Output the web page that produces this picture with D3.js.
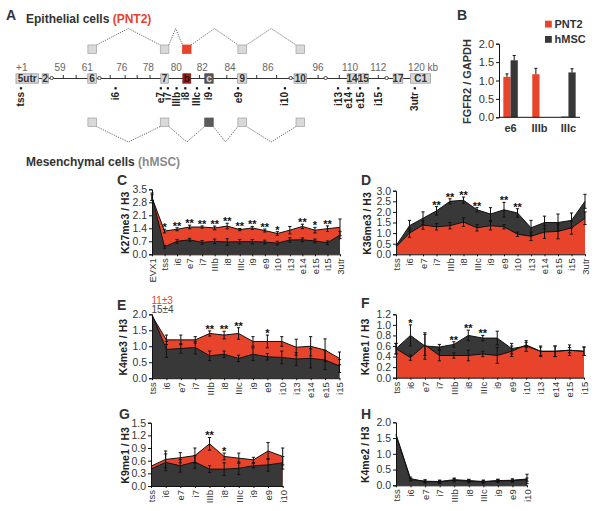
<!DOCTYPE html>
<html>
<head>
<meta charset="utf-8">
<script src="https://cdn.jsdelivr.net/npm/d3@7"></script>
<style>
  body { margin: 0; background: #fff; }
  text { font-family: "Liberation Sans", Arial, sans-serif; }
</style>
</head>
<body>
<svg id="fig" width="600" height="511"></svg>
<script>
// ---------- panel A: gene diagram (positions in diagram units, 0-100) ----------
const exonNames = ["5utr", "2", "6", "7", "b", "c", "9", "10", "14", "15", "17", "C1"];
const exonStart = [0, 6.3, 17.3, 34.9, 40.2, 45.5, 53.4, 67, 79.8, 82.5, 90.9, 95.1];
const exonEnd   = [5.4, 7.8, 19.4, 36.7, 42.1, 47.5, 55.6, 70, 82.1, 84.9, 93.2, 99.9];
const kbLabels = ["+1", "59", "61", "76", "78", "80", "82", "84", "86", "96", "110", "112", "120 kb"];
const kbPos    = [1.4, 10.6, 17.2, 25.5, 31.9, 38.6, 44.9, 51.6, 60.7, 72.8, 80.5, 87.3, 98.1];
const lineTicks  = [11.4, 14.5, 22.7, 26.3, 29.2, 32.3, 44.2, 50.8, 58, 62.8, 72.8, 77.9, 87.3];
const lineBreaks = [8.6, 20.1, 66.2, 74.6, 89.3];
const siteNames = ["tss", "i6", "e7", "i7", "IIIb", "i8", "IIIc", "i9", "e9", "i10", "i13", "e14", "e15", "i15", "3utr"];
const sitePos   = [1.2, 24, 34.9, 36.6, 38.7, 40.8, 43.6, 46.5, 53.5, 64.8, 77.6, 80.1, 82.9, 87.3, 96.1];
const epiExons = ["6", "7", "b", "9", "10"];
const mesExons = ["6", "7", "c", "9", "10"];

// ---------- panel B: FGFR2 / GAPDH ----------
const bGroups = ["e6", "IIIb", "IIIc"];
const b_pnt2 = [1.1, 1.17, 0.02];
const b_pnt2Err = [0.08, 0.16, 0];
const b_hmsc = [1.55, 0, 1.22];
const b_hmscErr = [0.13, 0, 0.1];

// ---------- panel C: K27me3 ----------
const catsC = ["EVX1", "tss", "i6", "e7", "i7", "IIIb", "i8", "IIIc", "i9", "e9", "i10", "i13", "e14", "e15", "i15", "3utr"];
const c_pnt2    = [3.05, 1.25, 1.35, 1.47, 1.47, 1.42, 1.52, 1.33, 1.42, 1.28, 1.12, 1.3, 1.5, 1.3, 1.38, 1.45];
const c_pnt2Err = [0.15, 0.1, 0.08, 0.1, 0.06, 0.1, 0.15, 0.06, 0.08, 0.08, 0.1, 0.2, 0.12, 0.15, 0.15, 0.45];
const c_hmsc    = [3.1, 0.4, 0.7, 0.78, 0.64, 0.7, 0.66, 0.68, 0.68, 0.66, 0.6, 0.77, 0.78, 0.72, 0.62, 1.04];
const c_hmscErr = [0.2, 0.08, 0.1, 0.08, 0.1, 0.12, 0.18, 0.12, 0.12, 0.1, 0.1, 0.12, 0.1, 0.1, 0.1, 0.2];
const c_stars = ["", "*", "**", "**", "**", "**", "**", "**", "**", "**", "*", "", "**", "*", "**", ""];

// ---------- panel D: K36me3 ----------
const catsD = ["tss", "i6", "e7", "i7", "IIIb", "i8", "IIIc", "i9", "e9", "i10", "i13", "e14", "e15", "i15", "3utr"];
const d_pnt2    = [0.35, 1.0, 1.38, 1.3, 1.35, 1.52, 1.25, 1.35, 1.3, 0.95, 0.85, 1.05, 1.08, 1.25, 1.7];
const d_pnt2Err = [0, 0.2, 0.2, 0.15, 0.15, 0.2, 0.15, 0.2, 0.1, 0.1, 0.2, 0.3, 0.35, 0.3, 0.3];
const d_hmsc    = [0.4, 1.35, 1.7, 2.05, 2.5, 2.55, 2.1, 1.9, 2.1, 1.95, 1.25, 1.5, 1.5, 1.6, 2.5];
const d_hmscErr = [0, 0.25, 0.3, 0.2, 0.12, 0.15, 0.1, 0.3, 0.35, 0.2, 0.35, 0.3, 0.4, 0.35, 0.33];
const d_stars = ["", "", "", "**", "**", "**", "**", "", "**", "**", "", "", "", "", ""];

// ---------- panel E: K4me3 ----------
const catsE = ["tss", "i6", "e7", "i7", "IIIb", "i8", "IIIc", "i9", "e9", "i10", "i13", "e14", "e15", "i15"];
const e_pnt2    = [1.95, 1.2, 1.2, 1.2, 1.4, 1.35, 1.4, 1.15, 1.15, 1.15, 0.97, 1.0, 0.88, 0.62];
const e_pnt2Err = [0, 0.15, 0.15, 0.1, 0.08, 0.12, 0.18, 0.15, 0.2, 0.15, 0.25, 0.3, 0.35, 0.2];
const e_hmsc    = [2.0, 0.9, 0.93, 0.96, 0.7, 0.75, 0.62, 0.75, 0.67, 0.65, 0.6, 0.62, 0.57, 0.38];
const e_hmscErr = [0, 0.25, 0.15, 0.2, 0.15, 0.1, 0.1, 0.2, 0.1, 0.2, 0.2, 0.3, 0.3, 0.2];
const e_stars = ["", "", "", "", "**", "**", "**", "", "*", "", "", "", "", ""];

// ---------- panel F: K4me1 ----------
const catsF = catsE;
const f_pnt2    = [0.55, 0.38, 0.62, 0.42, 0.42, 0.42, 0.45, 0.42, 0.5, 0.62, 0.5, 0.5, 0.52, 0.5];
const f_pnt2Err = [0.1, 0.05, 0.2, 0.1, 0.05, 0.1, 0.05, 0.15, 0.1, 0.05, 0.1, 0.1, 0.05, 0.08];
const f_hmsc    = [0.55, 0.8, 0.6, 0.58, 0.63, 0.8, 0.75, 0.75, 0.55, 0.6, 0.5, 0.5, 0.52, 0.5];
const f_hmscErr = [0.1, 0.2, 0.25, 0.05, 0.05, 0.1, 0.05, 0.13, 0.1, 0.1, 0.08, 0.1, 0.1, 0.08];
const f_stars = ["", "*", "", "", "**", "**", "**", "", "", "", "", "", "", ""];

// ---------- panel G: K9me1 ----------
const catsG = ["tss", "i6", "e7", "i7", "IIIb", "i8", "IIIc", "i9", "e9", "i10"];
const g_pnt2    = [0.47, 0.63, 0.67, 0.72, 1.0, 0.7, 0.66, 0.62, 0.83, 0.7];
const g_pnt2Err = [0, 0.2, 0.12, 0.18, 0.15, 0.08, 0.12, 0.06, 0.2, 0.2];
const g_hmsc    = [0.4, 0.56, 0.48, 0.57, 0.4, 0.4, 0.42, 0.48, 0.5, 0.55];
const g_hmscErr = [0, 0.2, 0.15, 0.15, 0.08, 0.15, 0.15, 0.05, 0.15, 0.15];
const g_stars = ["", "", "", "", "**", "*", "", "", "", ""];

// ---------- panel H: K4me2 ----------
const catsH = catsG;
const h_pnt2    = [1.62, 0.21, 0.12, 0.11, 0.16, 0.13, 0.11, 0.14, 0.15, 0.18];
const h_pnt2Err = [0, 0.05, 0.05, 0.05, 0.05, 0.05, 0.05, 0.05, 0.05, 0.05];
const h_hmsc    = [1.58, 0.18, 0.13, 0.12, 0.18, 0.15, 0.12, 0.15, 0.16, 0.2];
const h_hmscErr = [0, 0.04, 0.04, 0.04, 0.05, 0.04, 0.04, 0.04, 0.04, 0.15];
const h_stars = ["", "", "", "", "", "", "", "", "", ""];

const RED = "#e8432b", DARK = "#383838", INK = "#333";
const svg = d3.select("#fig");

function letter(g, x, y, t) {
  g.append("text").attr("x", x).attr("y", y)
    .attr("font-size", 14).attr("font-weight", "bold").attr("fill", INK).text(t);
}

// ===== panel A =====
(function () {
  const gx = d3.scaleLinear().domain([0, 100]).range([16, 431]);
  const lineY = 78.5;
  const g = svg.append("g");
  letter(g, 6, 19.5, "A");

  const t1 = g.append("text").attr("x", 26).attr("y", 22.5)
    .attr("font-size", 12).attr("font-weight", "bold").attr("fill", INK);
  t1.append("tspan").text("Epithelial cells ");
  t1.append("tspan").attr("fill", RED).text("(PNT2)");

  const t2 = g.append("text").attr("x", 26).attr("y", 166)
    .attr("font-size", 12).attr("font-weight", "bold").attr("fill", INK);
  t2.append("tspan").text("Mesenchymal cells ");
  t2.append("tspan").attr("fill", "#8a8a8a").text("(hMSC)");

  // backbone
  g.append("line")
    .attr("x1", gx(exonEnd[0])).attr("x2", gx(exonStart[exonStart.length - 1]))
    .attr("y1", lineY).attr("y2", lineY)
    .attr("stroke", INK).attr("stroke-width", 1.2);

  g.selectAll(".tk").data(lineTicks).join("line")
    .attr("x1", d => gx(d)).attr("x2", d => gx(d))
    .attr("y1", lineY - 3.5).attr("y2", lineY)
    .attr("stroke", INK).attr("stroke-width", 1);

  g.selectAll(".brk").data(lineBreaks).join("ellipse")
    .attr("cx", d => gx(d)).attr("cy", lineY - 0.5)
    .attr("rx", 1.8).attr("ry", 1.5)
    .attr("fill", "#fff").attr("stroke", INK).attr("stroke-width", 0.9);

  // exon boxes
  const exons = exonNames.map((n, i) => ({ n, s: exonStart[i], e: exonEnd[i] }));
  const box = g.selectAll(".ex").data(exons).join("g");
  box.append("rect")
    .attr("x", d => gx(d.s)).attr("width", d => gx(d.e) - gx(d.s))
    .attr("y", lineY - 4.7).attr("height", 9.4)
    .attr("fill", d => d.n === "b" ? "#a5241a" : d.n === "c" ? "#5a5a5a" : "#d9d9d9")
    .attr("stroke", d => d.n === "b" ? "#7a1a12" : d.n === "c" ? "#444" : "#9a9a9a")
    .attr("stroke-width", 0.8);
  box.append("text")
    .attr("x", d => gx((d.s + d.e) / 2)).attr("y", lineY + 3.6)
    .attr("text-anchor", "middle").attr("font-size", 10).attr("font-weight", "bold")
    .attr("fill", d => d.n === "c" ? "#ddd" : d.n === "b" ? "#1a0a08" : INK)
    .text(d => d.n);

  // kb labels
  g.selectAll(".kb").data(kbLabels).join("text")
    .attr("x", (d, i) => gx(kbPos[i])).attr("y", 70.5)
    .attr("text-anchor", "middle").attr("font-size", 10).attr("fill", "#666")
    .text(d => d);

  // amplicon sites
  const sites = siteNames.map((n, i) => ({ n, p: sitePos[i] }));
  g.selectAll(".dot").data(sites).join("rect")
    .attr("x", d => gx(d.p) - 1.1).attr("y", 87.2).attr("width", 2.2).attr("height", 2.2)
    .attr("fill", "#111");
  g.selectAll(".sl").data(sites).join("text")
    .attr("transform", d => `translate(${gx(d.p)},92) rotate(-90)`)
    .attr("dy", "0.35em").attr("text-anchor", "end")
    .attr("font-size", 10).attr("font-weight", "bold").attr("fill", "#222")
    .text(d => d.n);

  // splicing diagrams
  function splice(names, top, up, special, specialFill) {
    const size = 8.5;
    const cx = names.map(n => { const i = exonNames.indexOf(n); return gx((exonStart[i] + exonEnd[i]) / 2); });
    const edgeY = up ? top : top + size;
    const apexY = up ? top - 16.5 : top + size + 15.5;
    for (let k = 0; k < cx.length - 1; k++) {
      const xa = cx[k] + size / 2, xb = cx[k + 1] - size / 2;
      g.append("path")
        .attr("d", `M${xa},${edgeY}L${(xa + xb) / 2},${apexY}L${xb},${edgeY}`)
        .attr("fill", "none").attr("stroke", "#555").attr("stroke-width", 0.9)
        .attr("stroke-dasharray", "1.2,1.2");
    }
    g.selectAll(null).data(names).join("rect")
      .attr("x", (d, i) => cx[i] - size / 2).attr("y", top)
      .attr("width", size).attr("height", size)
      .attr("fill", d => d === special ? specialFill : "#d9d9d9")
      .attr("stroke", d => d === special ? specialFill : "#a8a8a8").attr("stroke-width", 0.8);
  }
  splice(epiExons, 45, true, "b", RED);
  splice(mesExons, 118, false, "c", "#5a5a5a");
})();

// ===== panel B =====
(function () {
  const g = svg.append("g");
  letter(g, 457, 19.5, "B");
  const x = d3.scaleBand().domain(bGroups).range([499, 580]).paddingInner(0.5).paddingOuter(0.15);
  const xs = d3.scaleBand().domain(["PNT2", "hMSC"]).range([0, x.bandwidth()]);
  const y = d3.scaleLinear().domain([0, 2]).range([117.3, 43.7]);

  const rows = [];
  bGroups.forEach((gName, i) => {
    rows.push({ g: gName, s: "PNT2", v: b_pnt2[i], e: b_pnt2Err[i], c: RED });
    rows.push({ g: gName, s: "hMSC", v: b_hmsc[i], e: b_hmscErr[i], c: DARK });
  });

  g.selectAll(".bar").data(rows).join("rect")
    .attr("x", d => x(d.g) + xs(d.s)).attr("width", xs.bandwidth())
    .attr("y", d => y(d.v)).attr("height", d => y(0) - y(d.v))
    .attr("fill", d => d.v < 0.05 ? DARK : d.c);

  const eb = rows.filter(d => d.e > 0);
  g.selectAll(".eb").data(eb).join("path")
    .attr("d", d => {
      const cx = x(d.g) + xs(d.s) + xs.bandwidth() / 2;
      const t = y(d.v + d.e), b = y(d.v);
      return `M${cx},${b}V${t}M${cx - 1.5},${t}H${cx + 1.5}`;
    })
    .attr("stroke", "#111").attr("stroke-width", 1).attr("fill", "none");

  const ya = g.append("g").attr("transform", "translate(499,0)")
    .call(d3.axisLeft(y).tickValues([0, 0.5, 1, 1.5, 2]).tickSize(3).tickPadding(2).tickFormat(d3.format(".1f")));
  ya.selectAll("text").attr("font-size", 11).attr("fill", INK);
  ya.select(".domain").attr("stroke", "#111");
  ya.selectAll(".tick line").attr("stroke", "#111");

  g.append("line").attr("x1", 499).attr("x2", 580).attr("y1", y(0)).attr("y2", y(0))
    .attr("stroke", "#111");

  g.selectAll(".xl").data(bGroups).join("text")
    .attr("x", d => x(d) + x.bandwidth() / 2).attr("y", 131.5)
    .attr("text-anchor", "middle").attr("font-size", 11).attr("font-weight", "bold").attr("fill", INK)
    .text(d => d);

  g.append("text")
    .attr("transform", `translate(470.5,${(y(0) + y(2)) / 2 + 1}) rotate(-90)`)
    .attr("text-anchor", "middle").attr("font-size", 11).attr("font-weight", "bold").attr("fill", INK)
    .text("FGFR2 / GAPDH");

  const leg = [{ n: "PNT2", c: RED }, { n: "hMSC", c: DARK }];
  const lg = g.selectAll(".lg").data(leg).join("g")
    .attr("transform", (d, i) => `translate(545,${20.7 + i * 15.3})`);
  lg.append("rect").attr("width", 6.8).attr("height", 6.8).attr("fill", d => d.c);
  lg.append("text").attr("x", 9.5).attr("y", 7.4)
    .attr("font-size", 11).attr("font-weight", "bold").attr("fill", INK).text(d => d.n);
})();

// ===== line/area panels C-H =====
function drawPanel(p) {
  const g = svg.append("g");
  const x = d3.scalePoint().domain(p.cats).range([p.x0, p.x1]);
  const y = d3.scaleLinear().domain([0, p.yMax]).range([p.yBot, p.yTop]);
  const red = { vals: p.red, err: p.redErr, fill: RED };
  const dark = { vals: p.dark, err: p.darkErr, fill: DARK };
  const order = p.front === "dark" ? [red, dark] : [dark, red];

  order.forEach(s => {
    g.append("path")
      .datum(p.cats.map((c, i) => ({ c, v: s.vals[i] })))
      .attr("fill", s.fill)
      .attr("d", d3.area().x(d => x(d.c)).y0(y(0)).y1(d => y(d.v)));
  });
  order.forEach(s => {
    g.append("path")
      .datum(p.cats.map((c, i) => ({ c, v: s.vals[i] })))
      .attr("fill", "none").attr("stroke", "#111").attr("stroke-width", 1)
      .attr("d", d3.line().x(d => x(d.c)).y(d => y(d.v)));
  });

  // error bars
  [red, dark].forEach(s => {
    const pts = p.cats.map((c, i) => ({ c, v: s.vals[i], e: s.err[i] })).filter(d => d.e > 0);
    g.selectAll(null).data(pts).join("path")
      .attr("d", d => {
        const cx = x(d.c), t = y(d.v + d.e), b = y(Math.max(0, d.v - d.e));
        return `M${cx},${b}V${t}M${cx - 1.6},${t}H${cx + 1.6}M${cx - 1.6},${b}H${cx + 1.6}`;
      })
      .attr("stroke", "#111").attr("stroke-width", 1).attr("fill", "none");
  });

  // significance stars
  const st = p.cats.map((c, i) => ({
    c, s: p.stars[i],
    top: Math.max(p.red[i] + p.redErr[i], p.dark[i] + p.darkErr[i])
  })).filter(d => d.s);
  g.selectAll(".st").data(st).join("text")
    .attr("x", d => x(d.c)).attr("y", d => y(d.top) + 2)
    .attr("text-anchor", "middle").attr("font-size", 11).attr("font-weight", "bold").attr("fill", "#111")
    .text(d => d.s);

  // axes
  const ya = g.append("g").attr("transform", `translate(${p.x0},0)`)
    .call(d3.axisLeft(y).tickValues(p.ticks).tickSize(3).tickPadding(2).tickFormat(d3.format(".1f")));
  ya.selectAll("text").attr("font-size", 10.5).attr("fill", INK);
  ya.select(".domain").attr("stroke", "#111");
  ya.selectAll(".tick line").attr("stroke", "#111");

  const xa = g.append("g").attr("transform", `translate(0,${p.yBot})`)
    .call(d3.axisBottom(x).tickSize(2).tickSizeOuter(0));
  xa.select(".domain").attr("stroke", "#111");
  xa.selectAll(".tick line").attr("stroke", "#111");
  xa.selectAll("text")
    .attr("transform", "rotate(-90)").attr("text-anchor", "end")
    .attr("x", -4).attr("y", 0).attr("dy", "0.35em")
    .attr("font-size", 9.5).attr("fill", INK);

  g.append("text")
    .attr("transform", `translate(${p.labelX},${(p.yTop + p.yBot) / 2 + 1}) rotate(-90)`)
    .attr("text-anchor", "middle").attr("font-size", 10.5).attr("font-weight", "bold").attr("fill", "#222")
    .text(p.label);

  letter(g, p.letterX, p.letterY, p.letter);
  return g;
}

drawPanel({ letter: "C", letterX: 117, letterY: 184.5, label: "K27me3 / H3", labelX: 129,
  cats: catsC, red: c_pnt2, redErr: c_pnt2Err, dark: c_hmsc, darkErr: c_hmscErr, stars: c_stars,
  x0: 152, x1: 340, yTop: 189.3, yBot: 254.3, yMax: 3.5, ticks: [0, 0.7, 1.4, 2.1, 2.8, 3.5], front: "dark" });

drawPanel({ letter: "D", letterX: 361, letterY: 184.5, label: "K36me3 / H3", labelX: 370.5,
  cats: catsD, red: d_pnt2, redErr: d_pnt2Err, dark: d_hmsc, darkErr: d_hmscErr, stars: d_stars,
  x0: 396, x1: 585, yTop: 190.7, yBot: 254.3, yMax: 3.0, ticks: [0, 0.5, 1, 1.5, 2, 2.5, 3], front: "red" });

const gE = drawPanel({ letter: "E", letterX: 117, letterY: 309.5, label: "K4me3 / H3", labelX: 127,
  cats: catsE, red: e_pnt2, redErr: e_pnt2Err, dark: e_hmsc, darkErr: e_hmscErr, stars: e_stars,
  x0: 152, x1: 339.5, yTop: 314.3, yBot: 378.2, yMax: 2.0, ticks: [0, 0.5, 1, 1.5, 2], front: "dark" });
gE.append("text").attr("x", 151.5).attr("y", 303.5).attr("font-size", 10).attr("fill", RED).text("11±3");
gE.append("text").attr("x", 151.5).attr("y", 313).attr("font-size", 10).attr("fill", "#444").text("15±4");

drawPanel({ letter: "F", letterX: 361, letterY: 308, label: "K4me1 / H3", labelX: 369,
  cats: catsF, red: f_pnt2, redErr: f_pnt2Err, dark: f_hmsc, darkErr: f_hmscErr, stars: f_stars,
  x0: 396, x1: 584, yTop: 314.3, yBot: 377.7, yMax: 1.2, ticks: [0, 0.2, 0.4, 0.6, 0.8, 1.0, 1.2], front: "red" });

drawPanel({ letter: "G", letterX: 119, letterY: 418.5, label: "K9me1 / H3", labelX: 129,
  cats: catsG, red: g_pnt2, redErr: g_pnt2Err, dark: g_hmsc, darkErr: g_hmscErr, stars: g_stars,
  x0: 151, x1: 282.7, yTop: 422.7, yBot: 486, yMax: 1.5, ticks: [0, 0.3, 0.6, 0.9, 1.2, 1.5], front: "dark" });

drawPanel({ letter: "H", letterX: 361, letterY: 418.5, label: "K4me2 / H3", labelX: 369,
  cats: catsH, red: h_pnt2, redErr: h_pnt2Err, dark: h_hmsc, darkErr: h_hmscErr, stars: h_stars,
  x0: 396, x1: 527, yTop: 422.3, yBot: 485.3, yMax: 2.0, ticks: [0, 0.5, 1, 1.5, 2], front: "dark" });
</script>
</body>
</html>
